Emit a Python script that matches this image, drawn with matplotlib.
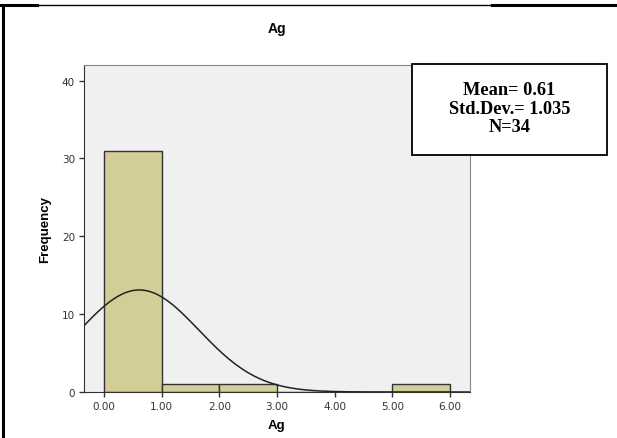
import numpy as np
import matplotlib.pyplot as plt
from matplotlib.lines import Line2D

# histogram data (bin edges and counts)
bin_edges = [0, 1, 2, 3, 4, 5, 6]
counts = [31, 1, 1, 0, 0, 1]
x_ticks = [0, 1, 2, 3, 4, 5, 6]
x_ticklabels = ["0.00", "1.00", "2.00", "3.00", "4.00", "5.00", "6.00"]
y_ticks = [0, 10, 20, 30, 40]
mean_val = 0.61
std_val = 1.035
n_val = 34

fig = plt.figure(figsize=(6.17, 4.39), dpi=100)
ax = fig.add_axes([0.1361, 0.1048, 0.6256, 0.7449])
ax.set_facecolor("#f0f0f0")

widths = np.diff(bin_edges)
ax.bar(bin_edges[:-1], counts, width=widths, align="edge",
       color="#d3ce97", edgecolor="#333333", linewidth=1.0, zorder=2)

# normal curve scaled to counts
xs = np.linspace(-0.5, 6.5, 400)
ys = n_val * 1.0 / (std_val * np.sqrt(2 * np.pi)) * np.exp(-0.5 * ((xs - mean_val) / std_val) ** 2)
ax.plot(xs, ys, color="#222222", linewidth=1.1, zorder=3)

ax.set_xlim(-0.35, 6.35)
ax.set_ylim(0, 42)
ax.set_xticks(x_ticks)
ax.set_xticklabels(x_ticklabels)
ax.set_yticks(y_ticks)
ax.tick_params(direction="out", length=3.5, width=1, colors="#333333",
               labelsize=7.5, labelcolor="#333333", pad=3)
for side in ["top", "right"]:
    ax.spines[side].set_color("#888888")
for side in ["left", "bottom"]:
    ax.spines[side].set_color("#333333")

ax.set_title("Ag", fontsize=10, fontweight="bold", family="Liberation Sans", pad=24)
ax.set_xlabel("Ag", fontsize=9.5, fontweight="bold", family="Liberation Sans", labelpad=6)
ax.set_ylabel("Frequency", fontsize=9.5, fontweight="bold", family="Liberation Sans", labelpad=8)

# stats box, drawn over the plot frame
box = plt.Rectangle((412 / 617, 1 - 156 / 439), 195 / 617, 91 / 439,
                    transform=fig.transFigure, facecolor="white",
                    edgecolor="black", linewidth=1.3, zorder=5)
fig.add_artist(box)
fig.text(509.5 / 617, 1 - 109 / 439, "Mean= %.2f\nStd.Dev.= %.3f\nN=%d" % (mean_val, std_val, n_val),
         ha="center", va="center", fontsize=13.2, fontweight="bold",
         family="Liberation Serif", linespacing=1.12, zorder=6)

# surrounding table borders
fig.add_artist(Line2D([0, 37 / 617], [1 - 6 / 439] * 2, color="black", linewidth=2.2))
fig.add_artist(Line2D([37 / 617, 492 / 617], [1 - 6 / 439] * 2, color="black", linewidth=1.0))
fig.add_artist(Line2D([492 / 617, 1], [1 - 6 / 439] * 2, color="black", linewidth=2.2))
fig.add_artist(Line2D([2.5 / 617] * 2, [0, 1 - 6 / 439], color="black", linewidth=2.2))

fig.savefig("out.png", dpi=100)
